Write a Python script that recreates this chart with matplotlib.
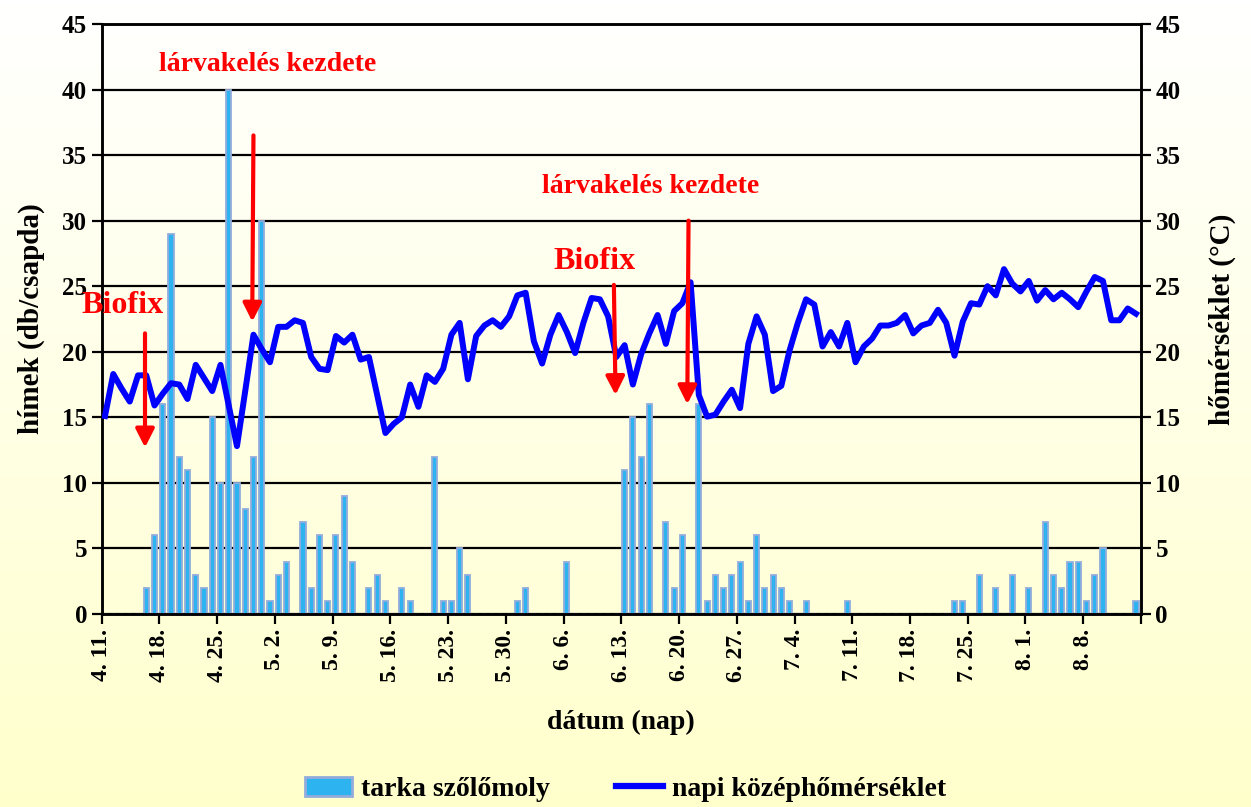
import matplotlib

matplotlib.use("Agg")
import matplotlib.pyplot as plt
import numpy as np
from matplotlib.colors import LinearSegmentedColormap
from matplotlib.lines import Line2D
from matplotlib.patches import Patch

plt.rcParams["font.family"] = ["Liberation Serif", "DejaVu Serif"]
plt.rcParams["font.weight"] = "bold"
plt.rcParams["axes.labelweight"] = "bold"

# daily moth catches (hímek / csapda), 4.11. -> 8.14.
counts = [0, 0, 0, 0, 0, 2, 6, 16, 29, 12,
          11, 3, 2, 15, 10, 40, 10, 8, 12, 30,
          1, 3, 4, 0, 7, 2, 6, 1, 6, 9,
          4, 0, 2, 3, 1, 0, 2, 1, 0, 0,
          12, 1, 1, 5, 3, 0, 0, 0, 0, 0,
          1, 2, 0, 0, 0, 0, 4, 0, 0, 0,
          0, 0, 0, 11, 15, 12, 16, 0, 7, 2,
          6, 0, 16, 1, 3, 2, 3, 4, 1, 6,
          2, 3, 2, 1, 0, 1, 0, 0, 0, 0,
          1, 0, 0, 0, 0, 0, 0, 0, 0, 0,
          0, 0, 0, 1, 1, 0, 3, 0, 2, 0,
          3, 0, 2, 0, 7, 3, 2, 4, 4, 1,
          3, 5, 0, 0, 0, 1]

# daily mean temperature (°C)
temps = [15.1, 18.3, 17.2, 16.2, 18.2, 18.2, 15.9, 16.8, 17.6, 17.5,
         16.4, 19.0, 18.0, 17.0, 19.0, 15.9, 12.8, 17.0, 21.3, 20.2,
         19.2, 21.9, 21.9, 22.4, 22.2, 19.6, 18.7, 18.6, 21.2, 20.7,
         21.3, 19.4, 19.6, 16.7, 13.8, 14.5, 15.0, 17.5, 15.8, 18.2,
         17.7, 18.7, 21.3, 22.2, 17.9, 21.2, 22.0, 22.4, 21.9, 22.7,
         24.3, 24.5, 20.8, 19.1, 21.3, 22.8, 21.5, 19.9, 22.2, 24.1,
         24.0, 22.7, 19.6, 20.5, 17.5, 19.8, 21.4, 22.8, 20.6, 23.1,
         23.7, 25.3, 16.7, 15.05, 15.2, 16.2, 17.1, 15.7, 20.6, 22.7,
         21.3, 17.0, 17.4, 20.1, 22.2, 24.0, 23.6, 20.4, 21.5, 20.4,
         22.2, 19.2, 20.4, 21.0, 22.0, 22.0, 22.2, 22.8, 21.4, 22.0,
         22.2, 23.2, 22.2, 19.7, 22.3, 23.7, 23.6, 25.0, 24.3, 26.3,
         25.2, 24.6, 25.4, 23.9, 24.7, 24.0, 24.5, 24.0, 23.4, 24.6,
         25.7, 25.4, 22.4, 22.4, 23.3, 22.9]

date_labels = ["4. 11.", "4. 18.", "4. 25.", "5. 2.", "5. 9.", "5. 16.",
               "5. 23.", "5. 30.", "6. 6.", "6. 13.", "6. 20.", "6. 27.",
               "7. 4.", "7. 11.", "7. 18.", "7. 25.", "8. 1.", "8. 8."]

# (label, text x, text y, arrow tail, arrow head) in day / °C units
notes = [
    ("Biofix", 2.5, 23.5, (5.25, 21.4), (5.25, 12.7)),
    ("lárvakelés kezdete", 20.1, 41.9, (18.4, 36.5), (18.25, 22.3)),
    ("Biofix", 59.7, 26.9, (62.1, 25.1), (62.3, 16.7)),
    ("lárvakelés kezdete", 66.6, 32.6, (71.15, 30.0), (71.0, 16.0)),
]

n_days = len(counts)
x = np.arange(n_days) + 0.4

fig = plt.figure(figsize=(12.51, 8.07), dpi=100)

# chart-area gradient: white at the top, pale yellow at the bottom
bg = fig.add_axes([0, 0, 1, 1], zorder=-10)
cmap = LinearSegmentedColormap.from_list("bg", ["#FFFFCC", "#FFFFFF"])
bg.imshow(np.linspace(0, 1, 256).reshape(-1, 1)[::-1], aspect="auto",
          cmap=cmap, extent=[0, 1, 0, 1])
bg.axis("off")

ax = fig.add_axes([0.0813, 0.2392, 0.8307, 0.7311])
ax.patch.set_alpha(0)
ax.bar(x, counts, width=0.62, color="#2DB4F0", edgecolor="#93ACDC",
       linewidth=1.3, zorder=2)
ax.set_ylim(0, 45)
ax.set_yticks(range(0, 46, 5))
ax.set_xlim(0, n_days)
ax.set_xticks(range(0, n_days + 1, 7))
ax.set_xticklabels(date_labels + [""], rotation=90, fontsize=17)
ax.yaxis.grid(True, color="black", lw=1.6)
ax.set_axisbelow(True)
ax.tick_params(axis="both", direction="out", length=7, width=1.6,
               labelsize=18)
ax.tick_params(axis="x", labelsize=17)
for s in ax.spines.values():
    s.set_linewidth(1.8)
ax.set_ylabel("hímek (db/csapda)", fontsize=21, labelpad=12)
ax.set_xlabel("dátum (nap)", fontsize=20, labelpad=20)

ax2 = ax.twinx()
ax2.plot(x, temps, color="#0000FF", lw=4.3, solid_joinstyle="round", zorder=3)
ax2.set_ylim(0, 45)
ax2.set_yticks(range(0, 46, 5))
ax2.tick_params(axis="y", direction="out", length=7, width=1.6, labelsize=18)
for s in ax2.spines.values():
    s.set_linewidth(1.8)
ax2.set_ylabel("hőmérséklet (°C)", fontsize=21, labelpad=20)

for label, tx, ty, tail, head in notes:
    size = 23 if label == "Biofix" else 20
    ax2.text(tx, ty, label, color="#FF0000", fontsize=size, ha="center",
             va="center", clip_on=False, zorder=6)
    ax2.annotate("", xy=head, xytext=tail, zorder=5,
                 arrowprops=dict(arrowstyle="-|>,head_length=0.55,head_width=0.28",
                                 color="#FF0000", lw=3, mutation_scale=20,
                                 shrinkA=0, shrinkB=0))

handles = [Patch(facecolor="#2DB4F0", edgecolor="#93ACDC", linewidth=2),
           Line2D([], [], color="#0000FF", lw=4.5)]
fig.legend(handles, ["tarka szőlőmoly", "napi középhőmérséklet"],
           loc="lower center", bbox_to_anchor=(0.5, -0.025), ncol=2,
           frameon=False, fontsize=20, handlelength=1.7, handleheight=0.7,
           columnspacing=2.4, handletextpad=0.3)

fig.savefig("out.png", dpi=100)
